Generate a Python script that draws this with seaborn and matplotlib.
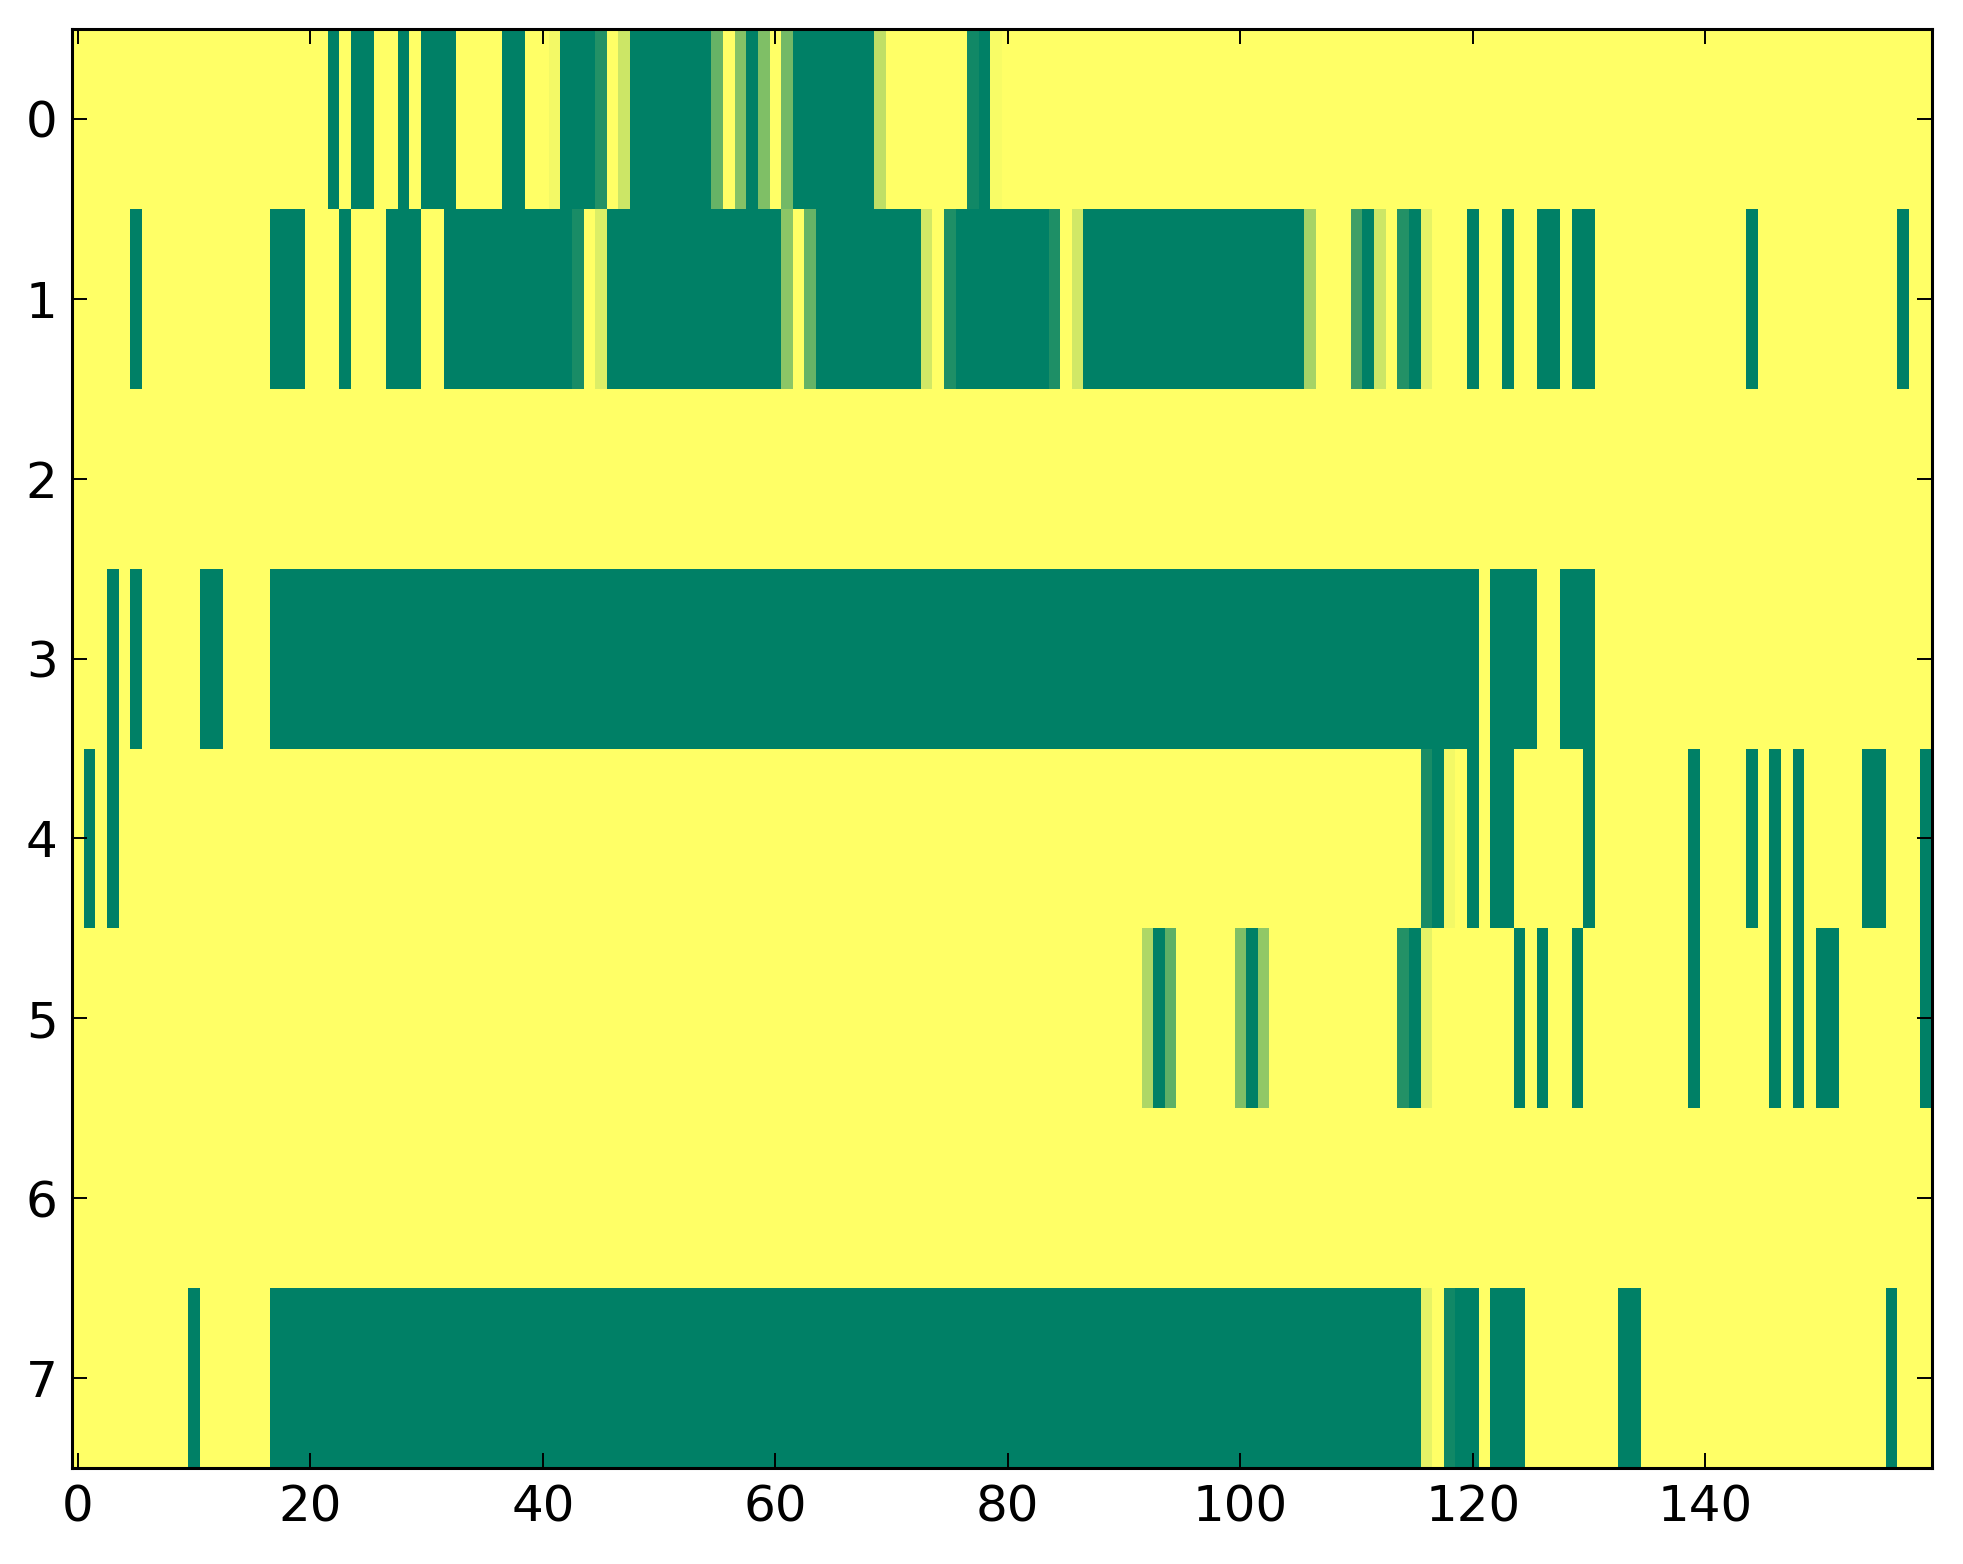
import numpy as np
import pandas as pd
import matplotlib
matplotlib.use("Agg")
import matplotlib.pyplot as plt
import seaborn as sns

# ---- data: per row, segments (first_col, last_col, value); unlisted cells are 0 ----
n_cols = 160
row_labels = [0, 1, 2, 3, 4, 5, 6, 7]
x_tick_values = [0, 20, 40, 60, 80, 100, 120, 140]

row0 = [(22, 22, 1), (24, 25, 1), (28, 28, 1), (30, 32, 1), (37, 38, 1),
        (41, 41, 0.05), (42, 44, 1), (45, 45, 0.86), (47, 47, 0.2), (48, 54, 1),
        (55, 55, 0.6), (57, 57, 0.48), (58, 58, 1), (59, 59, 0.5), (61, 61, 0.55),
        (62, 68, 1), (69, 69, 0.25), (77, 77, 0.93), (78, 78, 1), (79, 79, 0.03)]
row1 = [(5, 5, 1), (17, 19, 1), (23, 23, 1), (27, 29, 1), (32, 42, 1),
        (43, 43, 0.9), (45, 45, 0.14), (46, 60, 1), (61, 61, 0.45), (63, 63, 0.6),
        (64, 72, 1), (73, 73, 0.18), (75, 75, 0.88), (76, 83, 1), (84, 84, 0.88),
        (86, 86, 0.18), (87, 105, 1), (106, 106, 0.35), (110, 110, 0.75),
        (111, 111, 1), (112, 112, 0.2), (114, 114, 0.86), (115, 115, 1),
        (116, 116, 0.1), (120, 120, 1), (123, 123, 1), (126, 127, 1),
        (129, 130, 1), (144, 144, 1), (157, 157, 1)]
row2 = []
row3 = [(3, 3, 1), (5, 5, 1), (11, 12, 1), (17, 120, 1), (122, 125, 1), (128, 130, 1)]
row4 = [(1, 1, 1), (3, 3, 1), (116, 116, 0.9), (117, 117, 1), (118, 118, 0.05),
        (120, 120, 1), (122, 123, 1), (130, 130, 1), (139, 139, 1), (144, 144, 1),
        (146, 146, 1), (148, 148, 1), (154, 155, 1), (159, 159, 1)]
row5 = [(92, 92, 0.32), (93, 93, 1), (94, 94, 0.63), (100, 100, 0.5), (101, 101, 1),
        (102, 102, 0.43), (114, 114, 0.86), (115, 115, 1), (116, 116, 0.1),
        (124, 124, 1), (126, 126, 1), (129, 129, 1), (139, 139, 1), (146, 146, 1),
        (148, 148, 1), (150, 151, 1), (159, 159, 1)]
row6 = []
row7 = [(10, 10, 1), (17, 115, 1), (116, 116, 0.1), (118, 118, 0.93), (119, 120, 1),
        (122, 124, 1), (133, 134, 1), (156, 156, 1)]

rows = [row0, row1, row2, row3, row4, row5, row6, row7]
matrix = np.zeros((len(rows), n_cols))
for r, segs in enumerate(rows):
    for a, b, v in segs:
        matrix[r, a:b + 1] = v
df = pd.DataFrame(matrix, index=row_labels, columns=range(n_cols))

# ---- figure ----
W, H, DPI = 1963, 1564, 200
fig = plt.figure(figsize=(W / DPI, H / DPI), dpi=DPI, facecolor="white")
ax = fig.add_axes([72 / W, 96 / H, (1932 - 72) / W, (1468 - 29) / H])

sns.heatmap(df, cmap="summer_r", vmin=0, vmax=1, cbar=False, ax=ax,
            linewidths=0, xticklabels=False, yticklabels=False)

ax.set_xticks(np.array(x_tick_values) + 0.5)
ax.set_xticklabels([str(v) for v in x_tick_values])
ax.set_yticks(np.array(row_labels) + 0.5)
ax.set_yticklabels([str(v) for v in row_labels], rotation=0)
ax.set_xlabel("")
ax.set_ylabel("")

for s in ax.spines.values():
    s.set_visible(True)
    s.set_color("black")
    s.set_linewidth(1.1)

ax.tick_params(axis="both", which="major", direction="in", length=5.4, width=0.7,
               top=True, right=True, labeltop=False, labelright=False,
               labelsize=18, colors="black")
ax.tick_params(axis="x", pad=5.5)
ax.tick_params(axis="y", pad=5.2)
for lab in ax.get_xticklabels() + ax.get_yticklabels():
    lab.set_fontfamily("DejaVu Sans")

fig.savefig("out.png", dpi=DPI, facecolor="white")
